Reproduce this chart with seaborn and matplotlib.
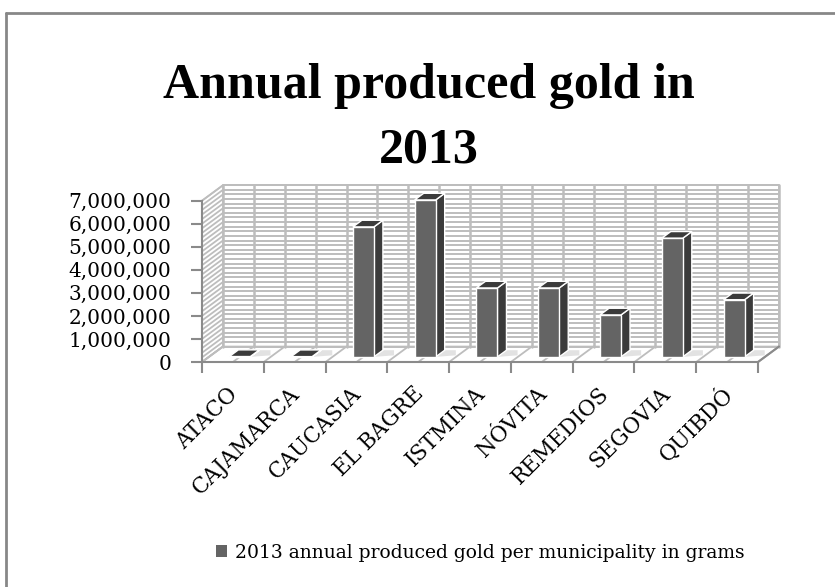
import numpy as np
import pandas as pd

import matplotlib
matplotlib.use("Agg")
import matplotlib.pyplot as plt
import seaborn as sns
from matplotlib.patches import Polygon, Patch
from matplotlib.lines import Line2D
from matplotlib.ticker import FuncFormatter
from matplotlib.transforms import ScaledTranslation

# =========================
#  DATA
# =========================

municipalities = ["ATACO", "CAJAMARCA", "CAUCASIA", "EL BAGRE", "ISTMINA",
                  "NÓVITA", "REMEDIOS", "SEGOVIA", "QUIBDÓ"]
gold_grams = [15000, 12000, 5640000, 6810000, 2990000,
              2990000, 1820000, 5150000, 2480000]
y_ticks = [0, 1000000, 2000000, 3000000, 4000000, 5000000, 6000000, 7000000]
series_label = "2013 annual produced gold per municipality in grams"
chart_title = "Annual produced gold in\n2013"

# =========================
#  STYLE
# =========================

sns.set_theme(style="white")
plt.rcParams["font.family"] = ["DejaVu Serif"]
plt.rcParams["text.color"] = "black"
plt.rcParams["xtick.color"] = "black"
plt.rcParams["ytick.color"] = "black"

FRONT = "#646464"
DARK = "#3b3b3b"
GRID = "#bdbdbd"
AXIS = "#8a8a8a"

W, H = 835, 587
fig = plt.figure(figsize=(W / 100, H / 100), dpi=100)
fig.patch.set_facecolor("white")

# front plane of the 3D box, in pixels
left_px, right_px, bottom_px, top_px = 202, 758, 362, 200.7
ax = fig.add_axes([left_px / W, 1 - bottom_px / H,
                   (right_px - left_px) / W, (bottom_px - top_px) / H])
ax.set_facecolor("none")

df = pd.DataFrame({"municipality": municipalities, "grams": gold_grams})
sns.barplot(data=df, x="municipality", y="grams", color=FRONT, width=0.34,
            saturation=1, ax=ax, zorder=5)

n = len(municipalities)
x0, x1 = -0.5, n - 0.5
ytop = y_ticks[-1]
ax.set_xlim(x0, x1)
ax.set_ylim(0, ytop)

# depth of the box (21 x 15.5 px) in data units
DX = 21 / ((right_px - left_px) / n)
DY = 15.5 * ytop / (bottom_px - top_px)

# =========================
#  WALLS AND FLOOR
# =========================

back = Polygon([(x0 + DX, DY), (x1 + DX, DY), (x1 + DX, ytop + DY), (x0 + DX, ytop + DY)],
               closed=True, fc="white", ec=GRID, lw=1.2, clip_on=False, zorder=0)
side = Polygon([(x0, 0), (x0 + DX, DY), (x0 + DX, ytop + DY), (x0, ytop)],
               closed=True, fc="white", ec=GRID, lw=1.2, clip_on=False, zorder=0)
floor = Polygon([(x0, 0), (x1, 0), (x1 + DX, DY), (x0 + DX, DY)],
                closed=True, fc="white", ec=GRID, lw=1.2, clip_on=False, zorder=0)
for p in (back, side, floor):
    ax.add_patch(p)

for v in np.arange(0, ytop + 1, 200000):
    ax.plot([x0 + DX, x1 + DX], [v + DY, v + DY], color=GRID, lw=1.4,
            clip_on=False, zorder=1, solid_capstyle="butt")
    ax.plot([x0, x0 + DX], [v, v + DY], color=GRID, lw=1.3,
            clip_on=False, zorder=1, solid_capstyle="butt")

for x in np.arange(x0, x1 + 0.01, 0.5):
    ax.plot([x + DX, x + DX], [DY, ytop + DY], color=GRID, lw=1.8,
            clip_on=False, zorder=1)
    ax.plot([x, x + DX], [0, DY], color=GRID, lw=1.3, clip_on=False, zorder=1)

# front axis lines and floor edge
ax.plot([x1, x1 + DX], [0, DY], color=AXIS, lw=1.5, clip_on=False, zorder=2)
for s in ["top", "right"]:
    ax.spines[s].set_visible(False)
for s in ["left", "bottom"]:
    ax.spines[s].set_color(AXIS)
    ax.spines[s].set_linewidth(1.5)
    ax.spines[s].set_zorder(3)

# =========================
#  3D BARS
# =========================

f_front, f_back = 0.33, 0.76
for bar in ax.containers[0]:
    x, w, h = bar.get_x(), bar.get_width(), bar.get_height()
    fx, fy = f_front * DX, f_front * DY
    bx, by = f_back * DX, f_back * DY
    bar.set_x(x + fx)
    bar.set_y(fy)
    bar.set_edgecolor("white")
    bar.set_linewidth(1.0)
    bar.set_clip_on(False)
    shadow = Polygon([(x + w + fx, fy), (x + w + bx + 0.18, fy + 0.1 * DY),
                      (x + w + bx + 0.18, by), (x + w + bx, by)],
                     closed=True, fc="#e2e2e2", ec="none", clip_on=False, zorder=2)
    right_face = Polygon([(x + w + fx, fy), (x + w + bx, by), (x + w + bx, h + by), (x + w + fx, h + fy)],
                         closed=True, fc=DARK, ec="white", lw=1.0, clip_on=False, zorder=4)
    top_face = Polygon([(x + fx, h + fy), (x + bx, h + by), (x + w + bx, h + by), (x + w + fx, h + fy)],
                       closed=True, fc=DARK, ec="white", lw=1.0, clip_on=False, zorder=4)
    ax.add_patch(shadow)
    ax.add_patch(right_face)
    ax.add_patch(top_face)

# =========================
#  TICKS AND LABELS
# =========================

ax.set_yticks(y_ticks)
ax.yaxis.set_major_formatter(FuncFormatter(lambda v, p: f"{int(v):,}"))
ax.tick_params(axis="y", left=True, length=8, width=1.5, color=AXIS,
               pad=14, labelsize=14.5, labelcolor="black")

ax.set_xticks(np.arange(x0, x1 + 0.01, 1.0), minor=True)
ax.tick_params(axis="x", which="minor", bottom=True, length=8, width=1.5, color=AXIS)
ax.tick_params(axis="x", which="major", bottom=False, length=0, pad=15,
               labelsize=15.5, labelcolor="black")
ax.set_xticks(range(n))
ax.set_xticklabels(municipalities, rotation=45, ha="right", va="top",
                   rotation_mode="anchor")
shift = ScaledTranslation(-6 / 100, 0, fig.dpi_scale_trans)
for lbl in ax.get_xticklabels():
    lbl.set_transform(lbl.get_transform() + shift)

ax.set_xlabel("")
ax.set_ylabel("")

# =========================
#  TITLE, LEGEND, BORDER
# =========================

fig.text(0.514, 1 - 118 / H, chart_title, ha="center", va="center", color="black",
         fontsize=36, fontweight="bold", family=["Liberation Serif", "DejaVu Serif"],
         linespacing=1.52)

handle = Patch(facecolor=FRONT, edgecolor="none")
leg = fig.legend([handle], [series_label], loc="center", bbox_to_anchor=(0.575, 1 - 553 / H),
                 frameon=False, fontsize=13.5, handlelength=0.6, handleheight=0.6,
                 handletextpad=0.4)
for t in leg.get_texts():
    t.set_color("black")

fig.add_artist(Line2D([6 / W, 6 / W], [0, 1 - 13 / H], transform=fig.transFigure,
                      color="#878787", lw=2))
fig.add_artist(Line2D([6 / W, 1], [1 - 13 / H, 1 - 13 / H], transform=fig.transFigure,
                      color="#878787", lw=2))

fig.savefig("out.png", dpi=100)
plt.close(fig)
